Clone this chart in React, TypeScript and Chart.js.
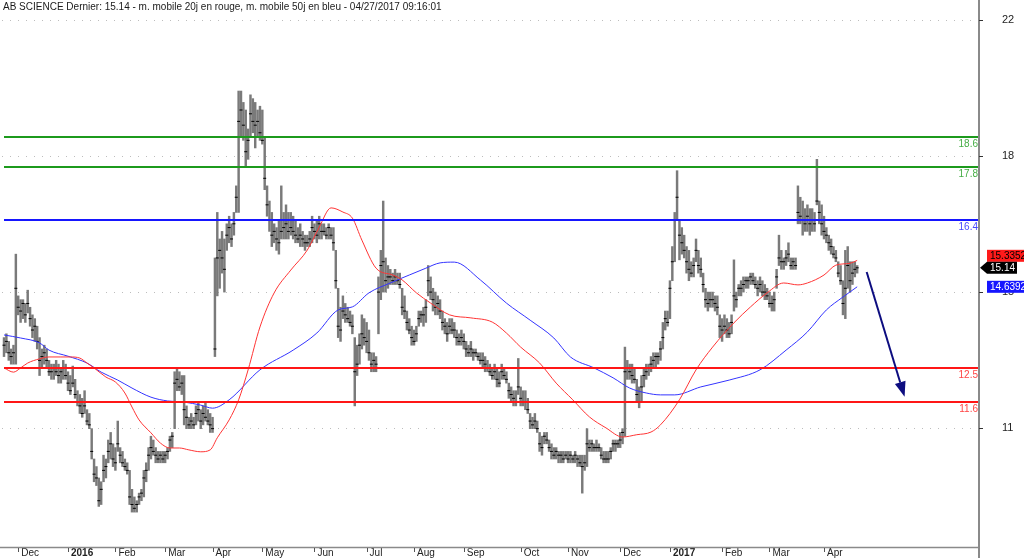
import React, { useEffect, useRef } from "react";
import { Chart, registerables } from "chart.js";
Chart.register(...registerables);

const TITLE = "AB SCIENCE Dernier: 15.14 - m. mobile 20j en rouge, m. mobile 50j en bleu - 04/27/2017 09:16:01";

// month labels and first trading-day index of each month
const monthLabels = ["Dec", "2016", "Feb", "Mar", "Apr", "May", "Jun", "Jul", "Aug", "Sep", "Oct", "Nov", "Dec", "2017", "Feb", "Mar", "Apr"];
const monthStarts = [6, 27, 47, 68, 88, 109, 131, 153, 173, 194, 218, 238, 260, 281, 303, 323, 346];

// right axis ticks
const yTickValues = [10.92, 14.5, 18.09, 21.67];
const yTickLabels = ["11", "15", "18", "22"];

// daily highs / lows / closes (one per trading day)
const hi = [
  13.3, 13.4, 13.2, 13.0, 13.1, 15.5, 14.4, 14.3, 14.3, 14.2,
  14.55, 14.1, 13.9, 13.8, 13.6, 13.3, 13.0, 13.1, 13.0, 12.7,
  12.6, 12.6, 12.7, 12.6, 12.5, 12.7, 12.6, 12.4, 12.3, 12.55,
  12.2, 11.9, 11.8, 11.7, 11.9, 11.4, 11.3, 10.9, 10.1, 9.9,
  9.6, 9.5, 10.2, 10.1, 10.6, 10.8, 10.5, 10.4, 11.1, 10.4,
  10.3, 10.1, 10.0, 9.8, 9.3, 9.1, 9.0, 9.2, 9.3, 9.8,
  10.0, 10.4, 10.7, 10.6, 10.4, 10.3, 10.3, 10.3, 10.3, 10.4,
  10.7, 10.8, 12.4, 12.5, 12.4, 12.3, 12.3, 11.5, 11.2, 11.3,
  11.2, 11.5, 11.6, 11.4, 11.5, 11.6, 11.4, 11.3, 11.2, 15.4,
  16.6, 15.9, 16.1, 15.9, 16.3, 16.5, 16.3, 16.6, 17.3, 19.8,
  19.8, 19.5, 19.3, 18.8, 19.7, 19.6, 19.5, 19.3, 19.4, 19.3,
  18.6, 17.3, 16.9, 16.6, 16.3, 16.2, 16.4, 17.3, 16.6, 16.8,
  16.6, 16.6, 16.5, 16.4, 16.2, 16.3, 16.1, 16.0, 16.0, 16.1,
  16.5, 16.3, 16.4, 16.5, 16.3, 16.3, 16.2, 16.3, 16.2, 16.2,
  15.6, 14.6, 14.1, 14.4, 14.2, 14.1, 14.0, 13.9, 13.3, 13.1,
  13.4, 13.9, 13.8, 13.7, 13.5, 12.9, 12.9, 12.8, 14.9, 15.6,
  16.9, 15.4, 15.2, 15.1, 15.0, 15.1, 15.0, 15.0, 14.6, 14.4,
  14.0, 13.8, 13.6, 13.5, 13.6, 14.0, 14.0, 14.1, 14.3, 15.2,
  14.9, 14.6, 14.5, 14.4, 14.3, 14.0, 13.8, 13.7, 13.8, 13.8,
  13.7, 13.5, 13.4, 13.5, 13.4, 13.2, 13.1, 13.2, 13.0, 13.0,
  12.9, 12.9, 12.9, 12.8, 12.7, 12.6, 12.5, 12.6, 12.5, 12.4,
  12.6, 12.5, 12.4, 12.1, 12.0, 11.9, 11.9, 12.75, 12.0, 11.9,
  11.9, 11.7, 11.3, 11.2, 11.3, 11.1, 10.8, 10.7, 10.8, 10.8,
  10.6, 10.5, 10.4, 10.4, 10.3, 10.3, 10.3, 10.3, 10.3, 10.3,
  10.2, 10.3, 10.2, 10.2, 10.2, 10.2, 10.9, 10.6, 10.6, 10.5,
  10.6, 10.5, 10.4, 10.3, 10.3, 10.3, 10.4, 10.6, 10.6, 10.6,
  10.8, 10.9, 13.05, 12.7, 12.6, 12.6, 12.5, 12.2, 12.0, 12.3,
  12.5, 12.6, 12.6, 12.8, 12.9, 12.9, 12.9, 13.2, 13.7, 14.0,
  14.0, 14.8, 15.7, 16.6, 17.7, 16.4, 16.2, 16.0, 15.7, 15.6,
  15.3, 15.4, 15.9, 15.6, 15.4, 15.0, 14.6, 14.5, 14.5, 14.5,
  14.4, 14.4, 13.9, 13.8, 13.9, 13.8, 13.7, 13.9, 15.35, 14.5,
  14.7, 14.8, 14.9, 14.9, 14.9, 15.0, 15.0, 14.9, 14.8, 14.9,
  14.8, 14.7, 14.6, 14.5, 14.4, 14.5, 15.1, 16.0, 15.6, 15.4,
  15.6, 15.8, 15.4, 15.4, 15.4, 17.3, 17.0, 16.9, 16.7, 16.8,
  16.7, 16.7, 16.6, 18.0, 16.9, 16.8, 16.5, 16.2, 16.0, 15.9,
  15.7, 15.6, 15.3, 15.2, 14.8, 15.6, 15.7, 15.3, 15.3, 15.3, 15.2,
];
const lo = [
  12.8, 12.9, 12.7, 12.6, 12.6, 12.6, 13.9, 13.7, 13.8, 13.7,
  13.95, 13.6, 13.3, 13.2, 13.0, 12.3, 12.5, 12.6, 12.5, 12.3,
  12.2, 12.2, 12.3, 12.1, 12.1, 12.2, 12.2, 11.9, 11.8, 12.0,
  11.7, 11.5, 11.3, 11.2, 11.3, 11.0, 10.9, 10.1, 9.5, 9.4,
  8.85, 8.9, 9.5, 9.6, 10.0, 10.1, 9.9, 9.8, 10.3, 10.0,
  9.9, 9.8, 9.7, 8.9, 8.7, 8.7, 8.7, 8.9, 9.0, 9.1,
  9.5, 9.8, 10.1, 10.2, 10.0, 10.0, 10.0, 10.0, 10.0, 10.1,
  10.3, 10.4, 10.9, 11.9, 11.9, 11.8, 11.0, 10.9, 10.9, 10.9,
  10.9, 11.0, 11.1, 10.9, 11.0, 11.1, 11.0, 10.8, 10.8, 12.8,
  14.4, 14.6, 15.0, 14.5, 15.6, 15.8, 15.7, 16.0, 16.6, 16.6,
  18.6, 18.5, 17.8, 18.0, 18.6, 18.7, 18.3, 18.6, 18.5, 18.4,
  17.2, 16.5, 16.1, 15.7, 15.8, 15.6, 15.5, 15.9, 15.9, 15.9,
  15.9, 16.0, 15.9, 15.8, 15.8, 15.7, 15.7, 15.6, 15.7, 15.7,
  15.8, 15.9, 15.8, 15.9, 15.9, 16.0, 15.9, 15.9, 15.9, 15.6,
  14.6, 13.3, 13.2, 13.8, 13.7, 13.7, 13.6, 13.4, 11.5, 12.3,
  12.6, 13.0, 13.1, 12.9, 12.7, 12.4, 12.4, 12.4, 13.4, 14.3,
  14.5, 14.5, 14.6, 14.7, 14.7, 14.7, 14.7, 14.6, 13.9, 13.8,
  13.5, 13.4, 13.1, 13.1, 13.2, 13.6, 13.7, 13.6, 13.7, 14.4,
  14.3, 14.0, 13.9, 13.9, 13.8, 13.5, 13.4, 13.2, 13.4, 13.4,
  13.3, 13.1, 13.1, 13.1, 13.0, 12.8, 12.8, 12.8, 12.7, 12.8,
  12.7, 12.6, 12.5, 12.4, 12.4, 12.3, 12.2, 12.2, 12.0, 12.0,
  12.2, 12.2, 12.1, 11.7, 11.6, 11.5, 11.5, 11.8, 11.5, 11.5,
  11.4, 11.3, 10.9, 10.9, 10.9, 10.8, 10.3, 10.2, 10.5, 10.5,
  10.3, 10.1, 10.1, 10.1, 10.0, 10.0, 10.0, 10.1, 10.0, 10.0,
  10.0, 10.0, 9.9, 9.9, 9.2, 9.8, 9.9, 10.3, 10.3, 10.3,
  10.3, 10.3, 10.1, 10.0, 10.0, 10.0, 10.1, 10.3, 10.3, 10.4,
  10.4, 10.5, 10.7, 12.2, 12.2, 12.1, 12.1, 11.6, 11.45, 11.6,
  12.0, 12.2, 12.3, 12.4, 12.5, 12.5, 12.6, 12.7, 13.0, 13.5,
  13.6, 13.8, 14.8, 15.3, 16.4, 15.35, 15.5, 15.4, 15.0, 14.8,
  14.9, 14.9, 15.3, 15.0, 14.9, 14.5, 14.1, 14.0, 14.1, 14.1,
  14.0, 13.9, 13.3, 13.2, 13.4, 13.3, 13.3, 13.4, 14.0, 14.1,
  14.4, 14.4, 14.5, 14.6, 14.6, 14.7, 14.7, 14.6, 14.4, 14.5,
  14.4, 14.3, 14.3, 14.1, 14.0, 14.0, 14.6, 15.2, 15.1, 15.1,
  15.2, 15.3, 15.1, 15.1, 15.1, 16.3, 16.3, 16.0, 16.1, 16.1,
  16.0, 16.1, 16.1, 16.8, 16.3, 16.0, 15.9, 15.8, 15.6, 15.5,
  15.4, 15.3, 14.9, 14.7, 13.9, 13.8, 14.6, 14.5, 14.7, 14.9, 15.0,
];
const cl = [
  13.1, 13.2, 12.9, 12.8, 12.9, 14.6, 14.1, 14.0, 14.2, 13.9,
  14.2, 13.8, 13.5, 13.6, 13.2, 12.7, 12.8, 12.9, 12.7, 12.4,
  12.4, 12.5, 12.4, 12.3, 12.4, 12.5, 12.3, 12.1, 11.9, 12.1,
  11.8, 11.6, 11.5, 11.3, 11.5, 11.1, 11.0, 10.3, 9.7, 9.6,
  9.0, 9.3, 9.8, 9.9, 10.3, 10.5, 10.1, 10.0, 10.5, 10.2,
  10.0, 9.9, 9.8, 9.1, 8.9, 8.8, 8.9, 9.1, 9.2, 9.6,
  9.8, 10.2, 10.4, 10.3, 10.2, 10.1, 10.2, 10.1, 10.2, 10.3,
  10.6, 10.7, 12.1, 12.2, 12.0, 12.1, 11.4, 11.2, 11.0, 11.1,
  11.0, 11.3, 11.4, 11.1, 11.3, 11.2, 11.1, 11.0, 10.9, 13.0,
  15.4, 15.6, 15.4, 15.1, 16.0, 16.2, 15.9, 16.3, 17.0, 19.0,
  19.3, 18.9, 18.2, 18.5, 19.2, 19.0, 18.9, 19.0, 18.7, 18.5,
  17.5, 16.8, 16.4, 16.0, 16.1, 15.9, 15.8, 16.1, 16.2, 16.3,
  16.1, 16.2, 16.1, 16.0, 15.9, 16.0, 15.9, 15.8, 15.8, 15.9,
  16.2, 16.1, 16.0, 16.3, 16.1, 16.1, 16.0, 16.2, 16.0, 15.8,
  14.8, 13.6, 13.5, 14.0, 13.9, 13.8, 13.7, 13.6, 12.4, 12.6,
  13.1, 13.4, 13.3, 13.2, 12.9, 12.6, 12.7, 12.6, 14.5, 15.2,
  15.3, 14.8, 14.9, 14.9, 14.8, 14.9, 14.8, 14.7, 14.1, 14.0,
  13.7, 13.5, 13.3, 13.2, 13.4, 13.8, 13.9, 13.9, 14.1, 14.8,
  14.5, 14.3, 14.1, 14.2, 14.0, 13.7, 13.6, 13.4, 13.6, 13.5,
  13.5, 13.3, 13.2, 13.3, 13.2, 13.0, 12.9, 13.0, 12.9, 12.9,
  12.8, 12.7, 12.7, 12.6, 12.5, 12.4, 12.3, 12.4, 12.2, 12.1,
  12.4, 12.3, 12.2, 11.9, 11.8, 11.7, 11.6, 12.0, 11.7, 11.6,
  11.6, 11.4, 11.1, 11.0, 11.1, 10.9, 10.5, 10.4, 10.7, 10.6,
  10.4, 10.3, 10.2, 10.3, 10.2, 10.2, 10.1, 10.2, 10.1, 10.2,
  10.1, 10.2, 10.1, 10.0, 9.9, 10.0, 10.5, 10.4, 10.5, 10.4,
  10.4, 10.4, 10.2, 10.1, 10.1, 10.1, 10.3, 10.5, 10.5, 10.5,
  10.6, 10.8, 12.4, 12.5, 12.4, 12.3, 12.2, 11.8, 11.6, 12.0,
  12.3, 12.4, 12.5, 12.6, 12.7, 12.8, 12.8, 13.0, 13.3, 13.8,
  13.7, 14.6, 15.3, 16.4, 17.0, 16.0, 15.8, 15.6, 15.3, 15.1,
  15.0, 15.2, 15.6, 15.2, 15.1, 14.7, 14.3, 14.2, 14.3, 14.3,
  14.2, 14.1, 13.6, 13.5, 13.6, 13.5, 13.4, 13.7, 14.4, 14.3,
  14.6, 14.6, 14.7, 14.8, 14.8, 14.9, 14.8, 14.7, 14.6, 14.7,
  14.5, 14.5, 14.4, 14.2, 14.2, 14.3, 14.9, 15.4, 15.3, 15.3,
  15.4, 15.5, 15.2, 15.3, 15.2, 16.6, 16.5, 16.4, 16.3, 16.5,
  16.3, 16.4, 16.3, 16.9, 16.6, 16.3, 16.1, 16.0, 15.8, 15.7,
  15.5, 15.4, 15.0, 14.8, 14.2, 14.6, 15.2, 14.8, 15.0, 15.1, 15.14,
];

// 20-day moving average (red), read at these day indices
const ma20Idx = [0, 4, 7, 10, 15, 19, 24, 28, 32, 35, 38, 43, 47, 51, 54, 57, 62, 66, 70, 74, 78, 83, 87, 90, 95, 99, 103, 108, 114, 121, 128, 133, 138, 143, 147, 151, 157, 164, 168, 174, 180, 188, 197, 206, 212, 218, 226, 233, 240, 247, 254, 261, 267, 273, 277, 285, 292, 299, 308, 315, 322, 329, 335, 339, 346, 351, 357, 360];
const ma20 = [12.5, 12.39, 12.5, 12.63, 12.74, 12.79, 12.79, 12.79, 12.76, 12.63, 12.5, 12.26, 12.13, 11.84, 11.47, 11.13, 10.79, 10.52, 10.39, 10.39, 10.34, 10.29, 10.34, 10.66, 11.13, 11.66, 12.45, 13.58, 14.48, 15.08, 15.61, 16.21, 16.72, 16.61, 16.45, 15.87, 15.13, 14.95, 14.82, 14.48, 14.21, 13.9, 13.82, 13.71, 13.42, 13.05, 12.63, 12.1, 11.66, 11.21, 10.92, 10.68, 10.74, 10.81, 11.0, 11.66, 12.45, 13.05, 13.69, 14.11, 14.48, 14.74, 14.69, 14.74, 14.95, 15.21, 15.26, 15.3352];

// 50-day moving average (blue)
const ma50Idx = [0, 7, 15, 19, 27, 35, 41, 48, 54, 62, 69, 76, 83, 88, 95, 108, 122, 132, 141, 147, 154, 163, 171, 178, 184, 190, 201, 212, 222, 232, 239, 249, 257, 264, 271, 277, 283, 294, 306, 319, 330, 339, 347, 354, 360];
const ma50 = [13.37, 13.29, 13.16, 12.97, 12.81, 12.63, 12.39, 12.18, 11.97, 11.73, 11.63, 11.6, 11.52, 11.44, 11.66, 12.45, 12.97, 13.42, 14.03, 14.11, 14.48, 14.74, 14.95, 15.13, 15.27, 15.29, 14.82, 14.21, 13.76, 13.29, 12.79, 12.5, 12.24, 11.97, 11.84, 11.79, 11.79, 12.0, 12.18, 12.45, 12.97, 13.45, 14.03, 14.37, 14.6392];

// horizontal levels
const levels = [18.6, 17.8, 16.4, 12.5, 11.6];

// forecast arrow [dayIndex, price]
const arrowFrom = [364, 15.03];
const arrowTo = [380, 11.74];

const FONT = '"Liberation Sans", Arial, sans-serif';
const levelLine = ["#1c9a1c", "#1c9a1c", "#1616ff", "#ff1616", "#ff1616"];
const levelText = ["#45ad45", "#45ad45", "#4848ff", "#ff4545", "#ff4545"];

const overlay = {
  id: "overlay",
  beforeDatasetsDraw(chart: any) {
    const { ctx, chartArea: a, scales } = chart;
    const y = scales.y;
    ctx.save();
    ctx.strokeStyle = "#bdbdbd";
    ctx.lineWidth = 1;
    ctx.setLineDash([1, 7]);
    for (const v of yTickValues) {
      const py = Math.round(y.getPixelForValue(v)) + 0.5;
      ctx.beginPath();
      ctx.moveTo(a.left + 2, py);
      ctx.lineTo(a.right - 4, py);
      ctx.stroke();
    }
    ctx.restore();
  },
  afterDatasetsDraw(chart: any) {
    const { ctx, chartArea: a, scales } = chart;
    const x = scales.x, y = scales.y;
    ctx.save();
    levels.forEach((lv, k) => {
      const py = Math.round(y.getPixelForValue(lv));
      ctx.strokeStyle = levelLine[k];
      ctx.lineWidth = 2;
      ctx.beginPath();
      ctx.moveTo(a.left + 4, py);
      ctx.lineTo(a.right, py);
      ctx.stroke();
      ctx.fillStyle = levelText[k];
      ctx.font = `10px ${FONT}`;
      ctx.textAlign = "right";
      ctx.textBaseline = "top";
      ctx.fillText(String(lv), a.right - 1, py + 2);
    });
    const x0 = x.getPixelForValue(arrowFrom[0]), y0 = y.getPixelForValue(arrowFrom[1]);
    const x1 = x.getPixelForValue(arrowTo[0]), y1 = y.getPixelForValue(arrowTo[1]);
    const dx = x1 - x0, dy = y1 - y0, len = Math.hypot(dx, dy);
    const ux = dx / len, uy = dy / len;
    const hl = 15, hw = 5.5;
    ctx.strokeStyle = "#0d0d80";
    ctx.fillStyle = "#0d0d80";
    ctx.lineWidth = 2;
    ctx.beginPath();
    ctx.moveTo(x0, y0);
    ctx.lineTo(x1 - ux * hl, y1 - uy * hl);
    ctx.stroke();
    ctx.beginPath();
    ctx.moveTo(x1, y1);
    ctx.lineTo(x1 - ux * hl - uy * hw, y1 - uy * hl + ux * hw);
    ctx.lineTo(x1 - ux * hl + uy * hw, y1 - uy * hl - ux * hw);
    ctx.closePath();
    ctx.fill();
    ctx.restore();
  },
  afterDraw(chart: any) {
    const { ctx, chartArea: a, scales } = chart;
    const x = scales.x, y = scales.y;
    const H = chart.height;
    ctx.save();
    ctx.strokeStyle = "#8a8a8a";
    ctx.lineWidth = 1.5;
    ctx.beginPath();
    ctx.moveTo(0, a.bottom + 0.5);
    ctx.lineTo(a.right, a.bottom + 0.5);
    ctx.stroke();
    ctx.lineWidth = 2;
    ctx.beginPath();
    ctx.moveTo(a.right, 0);
    ctx.lineTo(a.right, H);
    ctx.stroke();
    ctx.strokeStyle = "#333";
    ctx.lineWidth = 1;
    for (const v of yTickValues) {
      const py = Math.round(y.getPixelForValue(v)) + 0.5;
      ctx.beginPath();
      ctx.moveTo(a.right, py);
      ctx.lineTo(a.right + 4, py);
      ctx.stroke();
    }
    ctx.strokeStyle = "#555";
    for (const m of monthStarts) {
      const px = Math.round(x.getPixelForValue(m)) + 0.5;
      ctx.beginPath();
      ctx.moveTo(px, a.bottom + 1);
      ctx.lineTo(px, a.bottom + 5);
      ctx.stroke();
    }
    ctx.fillStyle = "#1a1a1a";
    ctx.font = `10px ${FONT}`;
    ctx.textAlign = "left";
    ctx.textBaseline = "top";
    ctx.fillText(TITLE, 3, 2);
    const last = cl[cl.length - 1];
    const redV = ma20[ma20.length - 1];
    const blueV = ma50[ma50.length - 1];
    const yc = y.getPixelForValue(last);
    const yr = Math.min(y.getPixelForValue(redV), yc - 12);
    const yb = Math.max(y.getPixelForValue(blueV), yc + 12);
    const bx = a.right + 8;
    ctx.font = `10px ${FONT}`;
    ctx.textBaseline = "middle";
    ctx.fillStyle = "#ff1a1a";
    ctx.fillRect(bx, yr - 6, 1024 - bx, 12);
    ctx.fillStyle = "#000";
    ctx.fillText(String(redV), bx + 3, yr + 0.5);
    ctx.fillStyle = "#1616ff";
    ctx.fillRect(bx, yb - 6, 1024 - bx, 12);
    ctx.fillStyle = "#fff";
    ctx.fillText(String(blueV), bx + 3, yb + 0.5);
    ctx.fillStyle = "#000";
    ctx.beginPath();
    ctx.moveTo(a.right + 1, yc);
    ctx.lineTo(bx, yc - 6);
    ctx.lineTo(bx + 30, yc - 6);
    ctx.lineTo(bx + 30, yc + 6);
    ctx.lineTo(bx, yc + 6);
    ctx.closePath();
    ctx.fill();
    ctx.fillStyle = "#fff";
    ctx.fillText(String(last), bx + 3, yc + 0.5);
    ctx.restore();
  },
};

export default function App() {
  const ref = useRef<HTMLCanvasElement>(null);
  useEffect(() => {
    const chart = new Chart(ref.current as HTMLCanvasElement, {
      type: "bar",
      data: {
        datasets: [
          {
            type: "line",
            label: "MM20",
            data: ma20Idx.map((d, k) => ({ x: d, y: ma20[k] })),
            borderColor: "#ff3434",
            borderWidth: 1,
            pointRadius: 0,
            pointHoverRadius: 0,
            cubicInterpolationMode: "monotone",
            order: 0,
          } as any,
          {
            type: "line",
            label: "MM50",
            data: ma50Idx.map((d, k) => ({ x: d, y: ma50[k] })),
            borderColor: "#3434ff",
            borderWidth: 1,
            pointRadius: 0,
            pointHoverRadius: 0,
            cubicInterpolationMode: "monotone",
            order: 1,
          } as any,
          {
            type: "line",
            label: "close",
            data: cl.map((c, i) => ({ x: i, y: c })),
            showLine: false,
            pointStyle: "line",
            pointRadius: 1.5,
            pointHoverRadius: 1.5,
            borderColor: "#000",
            borderWidth: 1,
            order: 2,
          } as any,
          {
            type: "bar",
            label: "range",
            data: hi.map((h, i) => ({ x: i, y: [lo[i], h] })),
            backgroundColor: "#7a7a7a",
            barThickness: 1.8,
            order: 3,
          } as any,
        ],
      },
      options: {
        responsive: false,
        animation: false,
        events: [],
        layout: { padding: 0, autoPadding: false },
        plugins: { legend: { display: false }, tooltip: { enabled: false } },
        scales: {
          x: {
            type: "linear",
            position: "bottom",
            offset: false,
            min: -1.69,
            max: 411.4,
            grid: { display: false, drawTicks: false },
            border: { display: false },
            afterBuildTicks: (s: any) => {
              s.ticks = monthStarts.map((v) => ({ value: v }));
            },
            afterFit: (s: any) => {
              s.height = 11;
              s.paddingLeft = 0;
              s.paddingRight = 0;
              s.paddingTop = 0;
              s.paddingBottom = 0;
            },
            ticks: {
              autoSkip: false,
              maxRotation: 0,
              minRotation: 0,
              align: "start",
              labelOffset: 3,
              padding: 0,
              color: "#222",
              font: (c: any) => ({
                family: FONT,
                size: 10,
                weight: /^\d{4}$/.test(monthLabels[c.index] || "") ? "bold" : "normal",
              }),
              callback: (_v: any, i: number) => monthLabels[i],
            },
          },
          y: {
            type: "linear",
            position: "right",
            min: 7.78,
            max: 22.2,
            grid: { display: false, drawTicks: true, tickLength: 23 },
            border: { display: false },
            afterBuildTicks: (s: any) => {
              s.ticks = yTickValues.map((v) => ({ value: v }));
            },
            afterFit: (s: any) => {
              s.width = 45;
              s.paddingLeft = 0;
              s.paddingRight = 0;
              s.paddingTop = 0;
              s.paddingBottom = 0;
            },
            ticks: {
              padding: 0,
              color: "#222",
              font: { family: FONT, size: 11 },
              callback: (_v: any, i: number) => yTickLabels[i],
            },
          },
        },
      } as any,
      plugins: [overlay],
    });
    return () => chart.destroy();
  }, []);
  return (
    <div style={{ position: "fixed", left: 0, top: 0, width: 1024, height: 558, background: "#fff" }}>
      <canvas ref={ref} width={1024} height={558} style={{ display: "block", width: 1024, height: 558 }} />
    </div>
  );
}
